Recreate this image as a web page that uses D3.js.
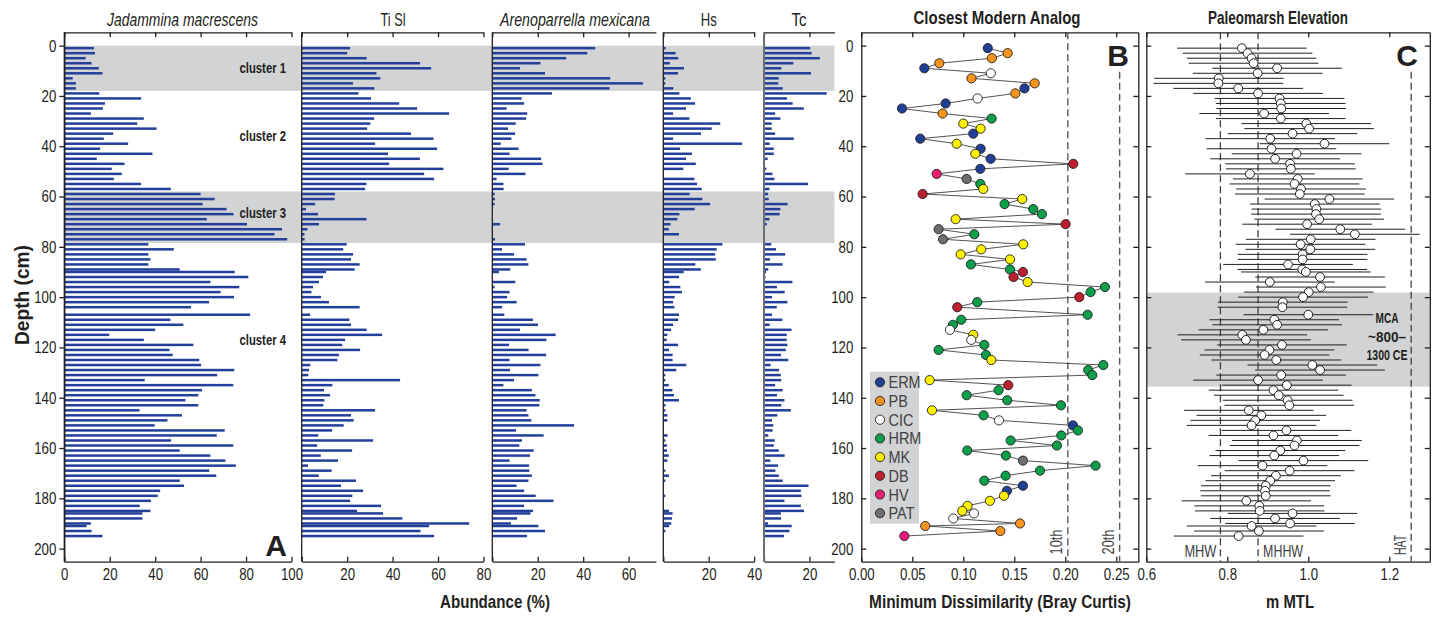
<!DOCTYPE html>
<html>
<head>
<meta charset="utf-8">
<script src="https://cdnjs.cloudflare.com/ajax/libs/d3/7.8.5/d3.min.js"></script>
<style>
  body { margin: 0; background: #fff; }
  svg { font-family: 'Liberation Sans', 'DejaVu Sans', sans-serif; }
</style>
</head>
<body>
<svg id="chart" width="1442" height="620"></svg>
<script>
  // sample depths (cm)
  const depths = [1,3,5,7,9,11,13,15,17,19,21,23,25,27,29,31,33,35,37,39,41,43,45,47,49,51,53,55,57,59,61,63,65,67,69,71,73,75,77,79,81,83,85,87,
    89,90,92,94,96,98,100,102,104,
    107,109,111,113,115,117,119,121,123,125,127,129,131,133,135,137,139,141,143,145,147,149,151,153,155,157,159,161,163,165,167,169,171,173,175,177,179,181,183,
    185,186,188,190,191,193,195];

  // foraminifera abundance (%)
  const jadammina = [13.0,13.5,9.4,12.0,15.2,16.8,3.7,5.1,5.1,15.4,33.8,17.9,17.0,11.7,35.0,32.1,40.6,21.5,17.4,28.1,15.8,38.8,14.3,26.5,20.9,25.3,21.8,33.8,46.9,60.0,66.2,60.9,71.4,74.5,62.7,80.4,95.8,92.5,98.1,37.0,48.2,37.0,37.9,37.0,
    50.8,75.0,81.0,64.3,77.0,68.8,74.7,63.7,55.8,
    81.8,46.7,52.4,40.0,19.8,35.0,56.8,46.3,47.7,59.4,60.2,74.8,67.3,35.4,74.4,60.6,59.0,53.3,59.0,33.1,51.8,45.4,39.8,70.6,67.1,47.0,74.4,50.8,64.3,70.9,75.5,63.8,66.9,50.8,52.7,42.2,41.1,38.1,33.2,
    37.9,34.4,34.4,11.7,9.8,12.0,16.8];
  const tiSl = [21.3,20.0,28.6,52.1,57.0,32.9,34.6,22.6,32.0,25.0,30.5,42.9,50.8,64.9,31.9,30.2,28.8,48.1,58.0,32.3,59.6,38.0,52.0,38.5,62.4,53.9,58.3,28.5,27.9,14.7,14.5,5.9,1.9,7.2,28.5,7.6,2.5,1.2,1.3,19.8,18.3,22.6,21.7,25.5,
    23.3,10.7,9.4,7.6,5.0,4.3,8.5,12.0,25.5,
    3.7,21.0,21.7,28.6,35.4,19.1,17.8,25.7,16.4,15.7,3.8,3.2,2.9,43.3,13.5,9.8,12.5,10.0,9.5,32.3,21.7,22.9,18.5,13.4,7.3,31.4,6.8,22.2,8.4,16.0,2.8,13.2,7.5,23.9,17.3,27.0,22.3,21.3,34.9,
    24.4,35.8,44.3,73.7,56.1,52.3,58.3];
  const areno = [45.3,41.8,32.5,21.2,12.2,23.2,51.9,66.3,51.6,26.3,12.9,14.0,6.3,15.4,14.9,10.3,6.9,10.0,8.4,3.7,11.6,7.6,21.5,22.1,7.2,14.6,1.9,4.9,5.0,1.0,1.2,1.0,0,0,0,3.4,0,0,1.2,14.4,4.3,9.6,15.1,15.9,
    7.9,2.9,0,10.1,1.0,7.6,6.5,10.7,4.3,
    5.3,17.9,20.1,12.2,27.9,23.8,7.4,16.0,23.7,7.6,21.2,7.8,20.3,9.6,4.9,17.4,19.0,20.9,20.7,15.1,15.9,17.2,36.0,10.4,22.6,13.1,11.9,18.2,16.6,7.6,16.2,16.3,17.4,15.9,10.7,14.0,19.1,26.9,14.0,
    17.9,16.8,10.9,8.2,20.3,23.2,15.3];
  const hs = [1.0,5.4,6.6,2.9,9.1,6.5,0.9,0.9,4.4,7.1,12.1,14.0,10.0,4.3,11.5,25.1,21.3,16.6,4.3,34.7,7.4,12.6,10.0,14.3,8.8,0,13.7,14.9,16.9,11.6,17.2,20.6,13.8,7.1,6.2,3.2,2.4,6.9,0,26.0,23.5,22.8,23.1,14.1,
    16.5,9.0,6.9,2.6,7.5,8.2,5.0,4.3,4.9,
    6.9,6.6,4.3,3.4,1.8,1.5,6.5,2.5,4.1,4.1,10.1,5.7,0.9,0.9,2.4,4.0,4.7,6.9,1.0,0.9,1.8,1.8,0,0,1.9,0.9,1.6,1.6,2.4,1.8,0,0.9,2.5,0.9,0,0,0.9,0,0,
    2.5,4.1,3.8,3.5,2.6,0.9,0];
  const tc = [20.3,21.0,24.6,12.9,7.6,20.7,6.5,6.3,8.2,27.6,10.1,12.6,17.5,4.9,7.2,3.4,3.4,4.9,13.1,2.5,4.3,4.3,1.6,0,1.0,3.7,4.6,19.4,2.4,1.8,2.1,10.4,7.2,6.9,2.4,1.2,0,0,0,3.2,5.3,9.3,2.6,8.2,
    1.9,0.9,0.6,12.5,5.7,9.1,3.5,10.3,5.6,
    3.5,8.1,2.5,12.1,10.0,10.0,10.3,9.6,7.5,10.7,2.9,6.6,7.4,7.6,4.9,8.2,5.7,9.0,7.6,11.8,5.9,3.5,4.1,3.8,1.9,4.7,4.3,6.5,9.1,2.8,6.2,5.0,6.5,8.2,19.6,16.2,16.5,9.0,16.2,
    17.6,7.4,7.5,1.8,12.2,11.2,8.8];

  // closest modern analog: minimum dissimilarity and site
  const dissim = [0.124,0.1435,0.128,0.0765,0.0618,0.127,0.108,0.170,0.160,0.151,0.114,0.0827,0.0399,0.0797,0.1278,0.100,0.117,0.1098,0.0578,0.0935,0.117,0.1118,0.1268,0.2078,0.1167,0.0739,0.1033,0.1167,0.1196,0.0601,0.1578,0.1405,0.1686,0.1771,0.0925,0.2003,0.0758,0.1108,0.0801,0.1588,0.1176,0.0974,0.1458,0.1075,
    0.1458,0.1585,0.1493,0.1631,0.2389,0.2248,0.2137,0.1137,0.0941,
    0.2219,0.098,0.0899,0.0869,0.1098,0.1078,0.1206,0.0758,0.1222,0.1275,0.2373,0.2225,0.2265,0.067,0.1441,0.1346,0.1033,0.1431,0.1958,0.0693,0.1199,0.135,0.2075,0.2124,0.1961,0.1464,0.1918,0.1039,0.1418,0.1585,0.2297,0.1752,0.1415,0.1206,0.1585,0.1428,0.1399,0.1261,0.1042,
    0.099,0.1105,0.0902,0.1556,0.0627,0.1363,0.0422];
  const analogSite = ['ERM','PB','PB','PB','ERM','CIC','PB','PB','ERM','PB','CIC','ERM','ERM','PB','HRM','MK','MK','ERM','ERM','MK','ERM','MK','ERM','DB','ERM','HV','PAT','HRM','MK','DB','MK','HRM','HRM','HRM','MK','DB','PAT','HRM','PAT','MK','MK','MK','MK','HRM',
    'HRM','DB','DB','MK','HRM','HRM','DB','HRM','DB',
    'HRM','HRM','HRM','CIC','MK','CIC','HRM','HRM','HRM','MK','HRM','HRM','HRM','MK','DB','HRM','HRM','HRM','HRM','MK','HRM','CIC','ERM','HRM','HRM','HRM','HRM','HRM','HRM','PAT','HRM','HRM','HRM','HRM','ERM','ERM','MK','MK','MK',
    'MK','CIC','CIC','PB','PB','PB','HV'];
  const siteNames = ['ERM','PB','CIC','HRM','MK','DB','HV','PAT'];
  const siteColors = ['#203f96','#f7941d','#ffffff','#0b9f4a','#fff200','#be1e2d','#ec1c74','#6d6e71'];

  // paleomarsh elevation (m MTL) with uncertainty
  const elevation = [0.836,0.850,0.860,0.865,0.923,0.875,0.779,0.778,0.827,0.876,0.929,0.932,0.933,0.891,0.932,0.995,1.002,0.961,0.906,1.040,0.909,0.971,0.918,0.955,0.957,0.856,0.974,0.966,0.982,0.979,1.052,1.016,1.020,1.019,1.027,0.997,1.079,1.115,1.006,0.981,1.005,0.986,0.986,0.950,
    0.985,0.994,1.029,0.905,1.031,1.001,0.987,0.937,0.936,
    1.000,0.916,0.923,0.889,0.837,0.846,0.935,0.904,0.892,0.921,1.010,1.029,0.933,0.876,0.947,0.914,0.927,0.949,0.953,0.853,0.884,0.869,0.860,0.946,0.914,0.972,0.966,0.931,0.916,0.988,0.887,0.954,0.920,0.906,0.895,0.893,0.895,0.847,0.879,
    0.880,0.961,0.918,0.955,0.860,0.878,0.828];
  const elevErr = 0.16;

  const clusterBands = [[0, 18], [58, 78.5]];
  const clusterLabels = [['cluster 1', 9], ['cluster 2', 36], ['cluster 3', 66.5], ['cluster 4', 117]];
  const mcaBand = [98.2, 135.6];
  const percentiles = [['10th', 0.2025], ['20th', 0.2533]];
  const tideLevels = [['MHW', 0.783], ['MHHW', 0.876], ['HAT', 1.254]];

  const depthTicks = d3.range(0, 201, 20);
  const INK = '#231f20';
  const GREY = '#414042';
  const BAR = '#22409a';

  const svg = d3.select('#chart');
  const y = d3.scaleLinear().domain([-5.3, 205.2]).range([32.3, 561.7]);
  const yTop = y.range()[0], yBot = y.range()[1];
  const PX = 2.272; // px per percent, shared by all abundance panels

  // squeeze text horizontally to mimic the condensed face of the original
  function fit(sel, w) {
    sel.attr('textLength', w).attr('lengthAdjust', 'spacingAndGlyphs');
    return sel;
  }
  function condense(sel, k) {
    sel.each(function () {
      const w = this.getComputedTextLength();
      if (w > 0) d3.select(this).attr('textLength', w * k).attr('lengthAdjust', 'spacingAndGlyphs');
    });
  }

  const panels = [
    { title: 'Jadammina macrescens', italic: true, values: jadammina, max: 100, x0: 64.3, ticks: [0,20,40,60,80,100], tx: 182.5, tw: 151 },
    { title: 'Ti Sl', values: tiSl, max: 80, x0: 301.7, ticks: [0,20,40,60,80], tx: 393, tw: 25 },
    { title: 'Arenoparrella mexicana', italic: true, values: areno, max: 72, x0: 492.3, ticks: [0,20,40,60], tx: 575, tw: 150 },
    { title: 'Hs', values: hs, max: 40, x0: 663.3, ticks: [0,20,40], tx: 708.7, tw: 16 },
    { title: 'Tc', values: tc, max: 31, x0: 764, ticks: [0,20], tx: 799, tw: 15 }
  ];
  panels.forEach(p => {
    p.x = d3.scaleLinear().domain([0, p.max]).range([p.x0, p.x0 + p.max * PX]);
  });

  // gray cluster bands across the abundance panels
  const bandX0 = panels[0].x(0), bandX1 = panels[4].x(31);
  svg.selectAll('rect.band').data(clusterBands).join('rect')
    .attr('x', bandX0).attr('width', bandX1 - bandX0)
    .attr('y', d => y(d[0])).attr('height', d => y(d[1]) - y(d[0]))
    .attr('fill', '#d1d3d4');

  panels.forEach((p, i) => {
    const g = svg.append('g');
    const rows = depths.map((d, k) => ({ d, v: p.values[k] })).filter(r => r.v > 0);
    g.selectAll('rect').data(rows).join('rect')
      .attr('x', p.x(0)).attr('y', r => y(r.d) - 1.25)
      .attr('width', r => p.x(r.v) - p.x(0)).attr('height', 2.5)
      .attr('fill', BAR);

    const bx = d3.axisBottom(p.x).tickValues(p.ticks).tickSize(-5).tickSizeOuter(0).tickPadding(6)
      .tickFormat(v => (i > 0 && v === 0) ? '' : v);
    g.append('g').attr('transform', `translate(0,${yBot})`).call(bx);
    const tx = d3.axisTop(p.x).tickValues(p.ticks).tickSize(-5).tickSizeOuter(0).tickFormat('');
    g.append('g').attr('transform', `translate(0,${yTop})`).call(tx);

    g.append('line').attr('x1', p.x(0)).attr('x2', p.x(0)).attr('y1', yTop).attr('y2', yBot)
      .attr('stroke', i === 4 ? '#6d6e71' : INK).attr('stroke-width', i === 4 ? 2 : 1.3);

    fit(g.append('text').attr('x', p.tx).attr('y', 26)
      .attr('text-anchor', 'middle').attr('font-size', 19)
      .attr('font-style', p.italic ? 'italic' : 'normal').attr('fill', INK).text(p.title), p.tw);
  });

  // panel A depth axis
  svg.append('g').attr('transform', `translate(${panels[0].x(0)},0)`)
    .call(d3.axisLeft(y).tickValues(depthTicks).tickSize(5).tickSizeOuter(0).tickPadding(3));

  svg.selectAll('text.cl').data(clusterLabels).join('text')
    .attr('x', 286).attr('y', d => y(d[1]) + 5).attr('text-anchor', 'end')
    .attr('font-size', 15).attr('font-weight', 'bold').attr('fill', INK).text(d => d[0])
    .attr('textLength', 46.5).attr('lengthAdjust', 'spacingAndGlyphs');

  // ---- panel B: closest modern analog
  const xb = d3.scaleLinear().domain([0, 0.2716]).range([861.3, 1138.3]);
  const gb = svg.append('g');
  gb.append('g').attr('transform', `translate(0,${yBot})`)
    .call(d3.axisBottom(xb).tickValues(d3.range(0, 0.26, 0.05)).tickFormat(d3.format('.2f')).tickSize(-5).tickSizeOuter(0).tickPadding(6));
  gb.append('g').attr('transform', `translate(0,${yTop})`)
    .call(d3.axisTop(xb).tickValues(d3.range(0, 0.26, 0.05)).tickFormat('').tickSize(-5).tickSizeOuter(0));
  gb.append('g').attr('transform', `translate(${xb.range()[0]},0)`)
    .call(d3.axisLeft(y).tickValues(depthTicks).tickSize(-5).tickSizeOuter(0).tickPadding(8));
  gb.append('g').attr('transform', `translate(${xb.range()[1]},0)`)
    .call(d3.axisRight(y).tickValues(depthTicks).tickSize(-5).tickSizeOuter(0).tickFormat(''));

  percentiles.forEach(([lab, v], k) => {
    gb.append('line').attr('x1', xb(v)).attr('x2', xb(v)).attr('y1', k === 0 ? yTop : 71.7).attr('y2', yBot)
      .attr('stroke', '#58595b').attr('stroke-width', 1.4).attr('stroke-dasharray', '7,4');
    fit(gb.append('text').attr('transform', `translate(${xb(v) - 11},542) rotate(-90)`)
      .attr('text-anchor', 'middle').attr('dominant-baseline', 'central')
      .attr('font-size', 16).attr('fill', GREY).text(lab), 25);
  });

  const line = d3.line().x((d, k) => xb(dissim[k])).y(d => y(d));
  gb.append('path').datum(depths).attr('d', line)
    .attr('fill', 'none').attr('stroke', GREY).attr('stroke-width', 0.9);

  const siteColor = d3.scaleOrdinal().domain(siteNames).range(siteColors);
  gb.selectAll('circle.pt').data(depths).join('circle')
    .attr('cx', (d, k) => xb(dissim[k])).attr('cy', d => y(d)).attr('r', 4.6)
    .attr('fill', (d, k) => siteColor(analogSite[k]))
    .attr('stroke', INK).attr('stroke-width', 0.9);

  // legend
  const lg = gb.append('g');
  lg.append('rect').attr('x', 870).attr('y', 371.7).attr('width', 49).attr('height', 152).attr('fill', '#d1d3d4');
  siteNames.forEach((s, k) => {
    const ly = 382.3 + k * 18.7;
    lg.append('circle').attr('cx', 880).attr('cy', ly).attr('r', 4.6)
      .attr('fill', siteColor(s)).attr('stroke', INK).attr('stroke-width', 0.9);
    lg.append('text').attr('class', 'lgt').attr('x', 888.5).attr('y', ly + 6)
      .attr('font-size', 17).attr('fill', GREY).text(s);
  });

  gb.append('text').attr('x', 1129).attr('y', 66).attr('text-anchor', 'end')
    .attr('font-size', 30).attr('font-weight', 'bold').attr('fill', INK).text('B');

  // ---- panel C: paleomarsh elevation
  const xc = d3.scaleLinear().domain([0.6, 1.3]).range([1146.3, 1429.8]);
  const gc = svg.append('g');
  gc.append('rect').attr('x', xc(0.6)).attr('width', xc(1.3) - xc(0.6))
    .attr('y', y(mcaBand[0])).attr('height', y(mcaBand[1]) - y(mcaBand[0])).attr('fill', '#d1d3d4');
  gc.append('g').attr('transform', `translate(0,${yBot})`)
    .call(d3.axisBottom(xc).tickValues([0.6, 0.8, 1.0, 1.2]).tickFormat(d3.format('.1f')).tickSize(-5).tickSizeOuter(0).tickPadding(6));
  gc.append('g').attr('transform', `translate(0,${yTop})`)
    .call(d3.axisTop(xc).tickValues([0.6, 0.8, 1.0, 1.2]).tickFormat('').tickSize(-5).tickSizeOuter(0));
  gc.append('g').attr('transform', `translate(${xc.range()[0]},0)`)
    .call(d3.axisLeft(y).tickValues(depthTicks).tickSize(-5).tickSizeOuter(0).tickFormat(''));
  gc.append('g').attr('transform', `translate(${xc.range()[1]},0)`)
    .call(d3.axisRight(y).tickValues(depthTicks).tickSize(-5).tickSizeOuter(0).tickFormat(''));

  tideLevels.forEach(([lab, v], k) => {
    gc.append('line').attr('x1', xc(v)).attr('x2', xc(v)).attr('y1', k === 2 ? 71.7 : yTop).attr('y2', yBot)
      .attr('stroke', GREY).attr('stroke-width', 1.3).attr('stroke-dasharray', '7,4');
  });
  fit(gc.append('text').attr('x', xc(0.783) - 4).attr('y', 557).attr('text-anchor', 'end')
    .attr('font-size', 17).attr('fill', GREY).text('MHW'), 32);
  fit(gc.append('text').attr('x', xc(0.876) + 5).attr('y', 557)
    .attr('font-size', 17).attr('fill', GREY).text('MHHW'), 40);
  fit(gc.append('text').attr('transform', `translate(${xc(1.254) - 11},545) rotate(-90)`)
    .attr('text-anchor', 'middle').attr('dominant-baseline', 'central')
    .attr('font-size', 16).attr('fill', GREY).text('HAT'), 20);

  gc.selectAll('line.err').data(depths).join('line')
    .attr('x1', (d, k) => xc(elevation[k] - elevErr)).attr('x2', (d, k) => xc(elevation[k] + elevErr))
    .attr('y1', d => y(d)).attr('y2', d => y(d))
    .attr('stroke', INK).attr('stroke-width', 1);
  gc.selectAll('circle.pt').data(depths).join('circle')
    .attr('cx', (d, k) => xc(elevation[k])).attr('cy', d => y(d)).attr('r', 4.4)
    .attr('fill', '#fff').attr('stroke', INK).attr('stroke-width', 1);

  [['MCA', 23], ['~800\u2013', 38], ['1300 CE', 41]].forEach(([t, w], k) => {
    fit(gc.append('text').attr('x', 1387).attr('y', 323 + k * 18.5).attr('text-anchor', 'middle')
      .attr('font-size', 15).attr('font-weight', 'bold').attr('fill', INK).text(t), w);
  });
  gc.append('text').attr('x', 1418).attr('y', 66).attr('text-anchor', 'end')
    .attr('font-size', 30).attr('font-weight', 'bold').attr('fill', INK).text('C');
  svg.append('text').attr('x', 287).attr('y', 556).attr('text-anchor', 'end')
    .attr('font-size', 30).attr('font-weight', 'bold').attr('fill', INK).text('A');

  // titles
  const titles = [
    ['Closest Modern Analog', 997, 24, 167],
    ['Paleomarsh Elevation', 1278, 24, 140],
    ['Abundance (%)', 495, 608, 110],
    ['Minimum Dissimilarity (Bray Curtis)', 1000, 608, 262],
    ['m MTL', 1290, 608, 48]
  ];
  titles.forEach(([t, tx, ty, tw]) => {
    fit(svg.append('text').attr('x', tx).attr('y', ty).attr('text-anchor', 'middle')
      .attr('font-size', 19).attr('font-weight', 'bold').attr('fill', INK).text(t), tw);
  });
  fit(svg.append('text').attr('transform', 'translate(22,295) rotate(-90)')
    .attr('text-anchor', 'middle').attr('dominant-baseline', 'central')
    .attr('font-size', 20).attr('font-weight', 'bold').attr('fill', INK).text('Depth (cm)'), 100);

  // axis styling
  svg.selectAll('g[font-family]').attr('font-family', null).attr('font-size', null);
  svg.selectAll('.tick text').attr('font-size', 17).attr('fill', INK);
  svg.selectAll('.domain, .tick line').attr('stroke', INK).attr('stroke-width', 1.3);
  condense(svg.selectAll('.tick text'), 0.78);
  condense(svg.selectAll('text.lgt'), 0.85);
</script>
</body>
</html>
